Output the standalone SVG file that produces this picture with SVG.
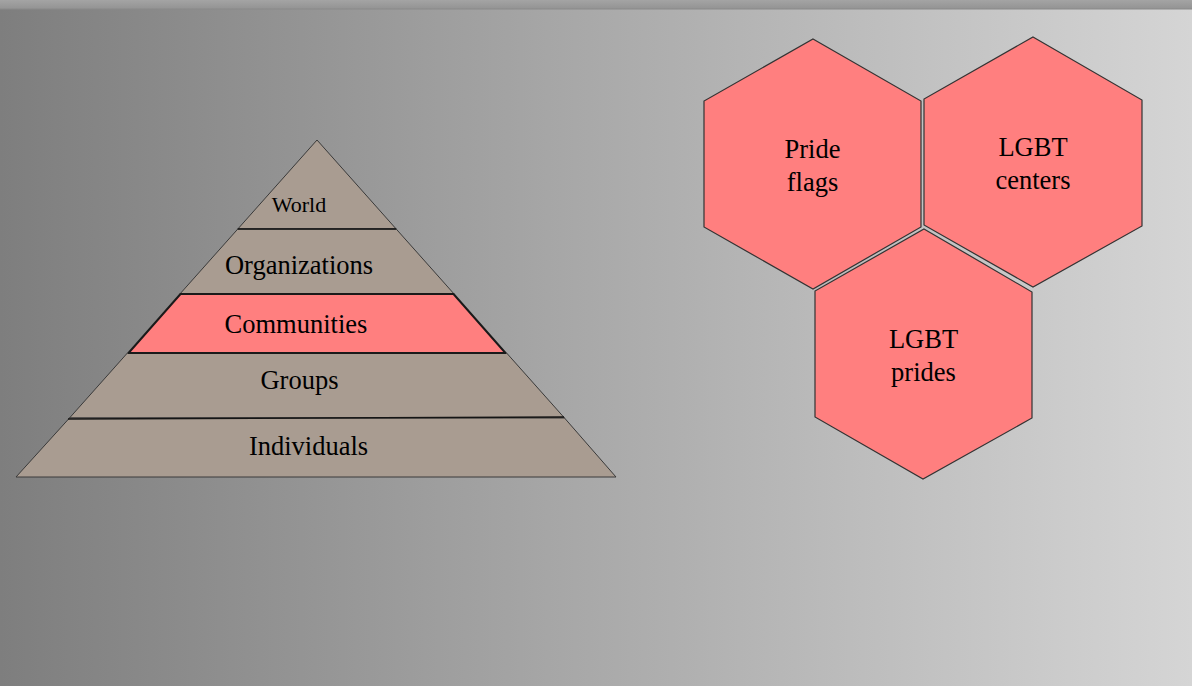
<svg xmlns="http://www.w3.org/2000/svg" width="1192" height="686" viewBox="0 0 1192 686">
  <defs>
    <linearGradient id="bg" x1="0" y1="0" x2="1" y2="0">
      <stop offset="0" stop-color="#7e7e7e"/>
      <stop offset="1" stop-color="#d5d5d5"/>
    </linearGradient>
    <linearGradient id="strip" x1="0" y1="0" x2="0" y2="1">
      <stop offset="0" stop-color="#a4a4a4"/>
      <stop offset="1" stop-color="#939393"/>
    </linearGradient>
  </defs>
  <style>
    .layer { fill: #a99c91; stroke: #3a3a3a; stroke-width: 1; }
    .hot { fill: #ff7f7f; stroke: #1a1a1a; stroke-width: 2; stroke-linejoin: round; }
    .divider { stroke: #151515; stroke-width: 1.6; fill: none; }
    .hex { fill: #ff7f7f; stroke: #333333; stroke-width: 1.2; }
    .lbl { font-family: "Liberation Serif", "Times New Roman", serif; font-size: 26.5px; fill: #000000; text-anchor: middle; }
    .small { font-size: 22px; }
  </style>
  <rect x="0" y="0" width="1192" height="686" fill="url(#bg)"/>
  <rect x="0" y="0" width="1192" height="9" fill="url(#strip)"/>
  <line x1="0" y1="9" x2="1192" y2="9" stroke="#8a8a8a" stroke-width="1.2"/>

  <g id="pyramid">
    <g id="layer-world">
      <polygon class="layer" points="317,140 396.2,229 237.8,229"/>
      <text class="lbl small" x="299" y="212">World</text>
    </g>
    <g id="layer-organizations">
      <polygon class="layer" points="237.8,229 396.2,229 454.1,294 179.9,294"/>
      <line class="divider" x1="237.8" y1="229" x2="396.2" y2="229"/>
      <text class="lbl" x="299" y="274">Organizations</text>
    </g>
    <g id="layer-groups">
      <polygon class="layer" points="127.4,353 506.6,353 564.5,418 69.5,418"/>
      <text class="lbl" x="299.5" y="389">Groups</text>
    </g>
    <g id="layer-individuals">
      <polygon class="layer" points="69.5,418 564.5,418 616,477 16,477"/>
      <line class="divider" x1="68" y1="419" x2="564" y2="417"/>
      <text class="lbl" x="308.5" y="455">Individuals</text>
    </g>
    <g id="layer-communities">
      <polygon class="hot" points="180.5,294 453.5,294 505.5,353 128.5,353"/>
      <text class="lbl" x="296" y="333">Communities</text>
    </g>
  </g>

  <g id="hex-pride-flags">
    <polygon class="hex" points="813,39 921,101 921,227 813,289 704,227 704,101"/>
    <text class="lbl" x="812.5" y="158">Pride</text>
    <text class="lbl" x="812.5" y="191">flags</text>
  </g>
  <g id="hex-lgbt-centers">
    <polygon class="hex" points="1033,37 1142,100 1142,226 1033,287 924,225 924,99"/>
    <text class="lbl" x="1033" y="156">LGBT</text>
    <text class="lbl" x="1033" y="189">centers</text>
  </g>
  <g id="hex-lgbt-prides">
    <polygon class="hex" points="924,229 1032,292 1032,418 923,479 815,417 815,291"/>
    <text class="lbl" x="923.5" y="348">LGBT</text>
    <text class="lbl" x="923.5" y="381">prides</text>
  </g>

  <g id="connectors"/>
</svg>
